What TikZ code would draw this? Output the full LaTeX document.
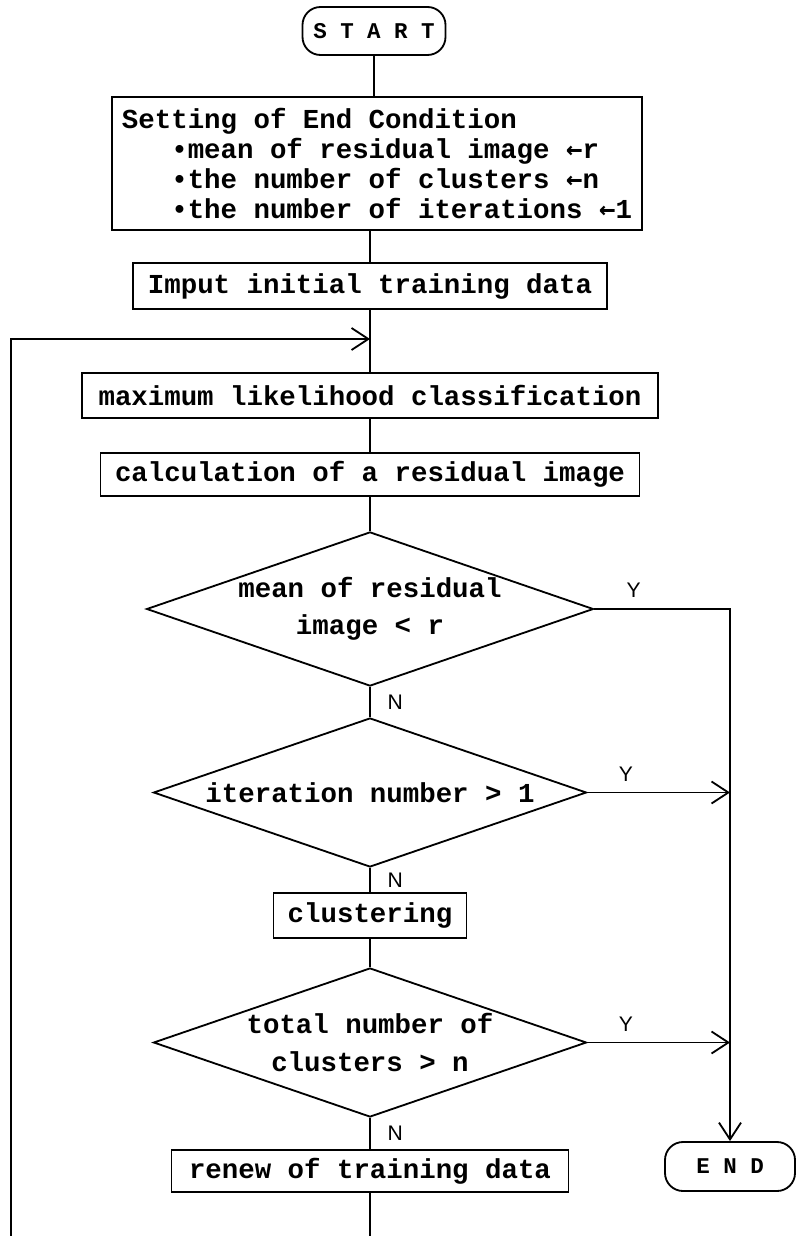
\documentclass[tikz,border=0pt]{standalone}
\usepackage{fontspec}
\usepackage{tikz}
\usetikzlibrary{shapes.geometric, arrows.meta, positioning}
\newfontfamily\flowfont{Liberation Mono}
\newfontfamily\arrfont{DejaVu Sans Mono}
\newfontfamily\ynfont{Liberation Sans}
\newcommand{\getsarr}{{\arrfont\bfseries ←}}

\begin{document}
\begin{tikzpicture}[line width=1.3pt,
  proc/.style={rectangle, draw, inner sep=0pt, minimum height=1.1cm,
               font=\flowfont\bfseries\fontsize{19.5}{21.3}\selectfont},
  cond/.style={diamond, draw, inner sep=0pt, aspect=2.9, align=center,
               font=\flowfont\bfseries\fontsize{19.5}{26.5}\selectfont},
  term/.style={rectangle, rounded corners=0.45cm, draw, inner sep=0pt,
               font=\flowfont\bfseries\fontsize{16}{18}\selectfont},
  flow/.style={-{Straight Barb[length=0.42cm, width=0.55cm]}},
  yn/.style={font=\ynfont\fontsize{15}{15}\selectfont, inner sep=1pt}]
  \def\xm{9.25}
  \useasboundingbox (0,0) rectangle (19.875,-30.9);
  % terminals
  \node[term, minimum width=3.575cm, minimum height=1.2cm] (start) at (9.35,-0.775) {S T A R T};
  \node[term, minimum width=3.25cm, minimum height=1.225cm] (end) at (18.25,-29.1625) {E N D};
  % end condition box
  \node[proc, minimum width=13.25cm, minimum height=3.325cm, align=left]
    (setting) at (9.425,-4.0875)
    {Setting of End Condition\\
     \hspace*{1.8em}•mean of residual image \getsarr r\\
     \hspace*{1.8em}•the number of clusters \getsarr n\\
     \hspace*{1.8em}•the number of iterations \getsarr 1};
  % processing boxes
  \node[proc, minimum width=11.85cm, minimum height=1.15cm] (imput) at (\xm,-7.15) {Imput initial training data};
  \node[proc, minimum width=14.4cm, minimum height=1.125cm] (maxlik) at (\xm,-9.8875) {maximum likelihood classification};
  \node[proc, minimum width=13.475cm, minimum height=1.075cm] (calc) at (\xm,-11.8625) {calculation of a residual image};
  \node[proc, minimum width=4.825cm, minimum height=1.125cm] (clust) at (\xm,-22.8875) {clustering};
  \node[proc, minimum width=9.925cm, minimum height=1.05cm] (renew) at (\xm,-29.275) {renew of training data};
  % decisions
  \node[cond, minimum width=10.875cm, minimum height=3.7cm] (mean) at (\xm,-15.225) {mean of residual\\image < r};
  \node[cond, minimum width=10.825cm, minimum height=3.725cm] (iter) at (\xm,-19.8125) {iteration number > 1};
  \node[cond, minimum width=10.825cm, minimum height=3.725cm] (total) at (\xm,-26.0625) {total number of\\clusters > n};
  \coordinate (loopin) at (\xm,-8.475);
  \coordinate (loopbot) at (0.275,-30.9);
  \coordinate (mainbot) at (\xm,-30.9);

  % main column
  \draw (start.south) -- (start.south |- setting.north);
  \draw (imput.north |- setting.south) -- (imput.north);
  \draw (imput.south) -- (maxlik.north);
  \draw (maxlik.south) -- (calc.north);
  \draw (calc.south) -- (mean.north);
  \draw (mean.south) -- node[yn, right, xshift=0.38cm]{N} (iter.north);
  \draw (iter.south) -- node[yn, right, xshift=0.38cm]{N} (clust.north);
  \draw (clust.south) -- (total.north);
  \draw (total.south) -- node[yn, right, xshift=0.38cm]{N} (renew.north);
  \draw (renew.south) -- (mainbot);
  % loop back
  \draw[flow] (loopbot) |- (loopin);
  % yes branches
  \draw[flow] (mean.east) -- node[yn, above=0.22cm, pos=0.29]{Y} (mean.east -| end.north) -- (end.north);
  \foreach \c in {iter,total}
    \draw[flow] (\c.east) -- node[yn, above=0.22cm, pos=0.27]{Y} (\c.east -| end.north);
\end{tikzpicture}
\end{document}
